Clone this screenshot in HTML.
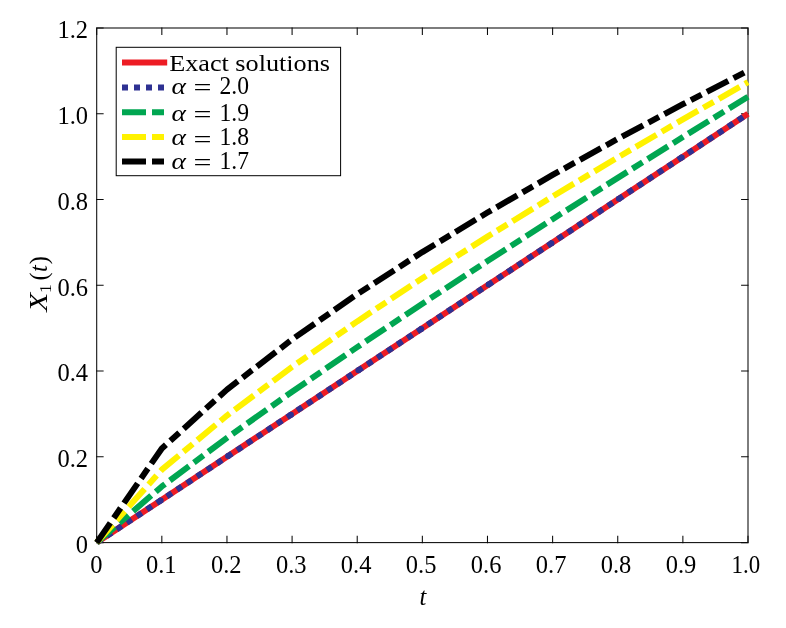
<!DOCTYPE html>
<html><head><meta charset="utf-8"><title>Plot</title>
<style>html,body{margin:0;padding:0;background:#fff}svg{display:block}text{font-family:"Liberation Serif",serif;fill:#000}</style></head><body>
<div style="will-change:transform;width:786px;height:628px">
<svg width="786" height="628" viewBox="0 0 786 628">
<rect width="786" height="628" fill="#fff"/>
<g stroke="#0a0a0a" stroke-width="1.06" fill="none" stroke-linecap="square">
<rect x="96.7" y="28.0" width="651.30" height="514.60"/>
<path d="M96.70 542.6v-6.4M96.70 28.0v6.4M161.83 542.6v-6.4M161.83 28.0v6.4M226.96 542.6v-6.4M226.96 28.0v6.4M292.09 542.6v-6.4M292.09 28.0v6.4M357.22 542.6v-6.4M357.22 28.0v6.4M422.35 542.6v-6.4M422.35 28.0v6.4M487.48 542.6v-6.4M487.48 28.0v6.4M552.61 542.6v-6.4M552.61 28.0v6.4M617.74 542.6v-6.4M617.74 28.0v6.4M682.87 542.6v-6.4M682.87 28.0v6.4M748.00 542.6v-6.4M748.00 28.0v6.4M96.7 542.60h6.4M748.0 542.60h-6.4M96.7 456.83h6.4M748.0 456.83h-6.4M96.7 371.07h6.4M748.0 371.07h-6.4M96.7 285.30h6.4M748.0 285.30h-6.4M96.7 199.53h6.4M748.0 199.53h-6.4M96.7 113.77h6.4M748.0 113.77h-6.4M96.7 28.00h6.4M748.0 28.00h-6.4"/>
</g>
<g fill="none" stroke-width="6" stroke-linejoin="round">
<polyline points="96.70,542.60 161.83,499.72 226.96,456.83 292.09,413.95 357.22,371.07 422.35,328.18 487.48,285.30 552.61,242.42 617.74,199.53 682.87,156.65 748.00,113.77" stroke="#ed1c24"/>
<polyline points="96.70,542.60 161.83,499.72 226.96,456.83 292.09,413.95 357.22,371.07 422.35,328.18 487.48,285.30 552.61,242.42 617.74,199.53 682.87,156.65 748.00,113.77" stroke="#2e3192" stroke-dasharray="6 6"/>
<g fill="#2e3192" stroke="none"><circle cx="160.66" cy="500.49" r="3"/><circle cx="228.13" cy="456.06" r="3"/><circle cx="290.92" cy="414.72" r="3"/><circle cx="358.39" cy="370.30" r="3"/><circle cx="421.18" cy="328.95" r="3"/><circle cx="488.65" cy="284.53" r="3"/><circle cx="551.44" cy="243.19" r="3"/><circle cx="618.91" cy="198.76" r="3"/><circle cx="681.70" cy="157.42" r="3"/></g>
<polyline points="96.70,542.60 161.83,486.47 226.96,437.85 292.09,391.72 357.22,347.13 422.35,303.66 487.48,261.05 552.61,219.15 617.74,177.85 682.87,137.06 748.00,96.72" stroke="#00a651" stroke-dasharray="24 6 12 6"/>
<polyline points="96.70,542.60 161.83,469.63 226.96,415.55 292.09,366.87 357.22,321.39 422.35,278.15 487.48,236.63 552.61,196.47 617.74,157.45 682.87,119.39 748.00,82.17" stroke="#fff200" stroke-dasharray="24 6 12 6"/>
<polyline points="96.70,542.60 161.83,448.43 226.96,389.63 292.09,339.42 357.22,294.09 422.35,252.08 487.48,212.53 552.61,174.92 617.74,138.90 682.87,104.20 748.00,70.65" stroke="#000" stroke-dasharray="24 6 12 6"/>
</g>
<g font-size="24.5">
<text x="96.30" y="572.8" text-anchor="middle">0</text>
<text x="161.27" y="572.8" text-anchor="middle">0.1</text>
<text x="226.24" y="572.8" text-anchor="middle">0.2</text>
<text x="291.21" y="572.8" text-anchor="middle">0.3</text>
<text x="356.18" y="572.8" text-anchor="middle">0.4</text>
<text x="421.15" y="572.8" text-anchor="middle">0.5</text>
<text x="486.12" y="572.8" text-anchor="middle">0.6</text>
<text x="551.09" y="572.8" text-anchor="middle">0.7</text>
<text x="616.06" y="572.8" text-anchor="middle">0.8</text>
<text x="681.03" y="572.8" text-anchor="middle">0.9</text>
<text x="745.80" y="572.8" text-anchor="middle" textLength="28.6" lengthAdjust="spacingAndGlyphs">1.0</text>
<text x="88" y="553.00" text-anchor="end">0</text>
<text x="88" y="467.23" text-anchor="end">0.2</text>
<text x="88" y="381.47" text-anchor="end">0.4</text>
<text x="88" y="295.70" text-anchor="end">0.6</text>
<text x="88" y="209.93" text-anchor="end">0.8</text>
<text x="88" y="124.17" text-anchor="end">1.0</text>
<text x="88" y="38.40" text-anchor="end">1.2</text>
<text x="422.8" y="604.5" text-anchor="middle" font-style="italic">t</text>
<g transform="translate(47.1 312.4) rotate(-90)">
<text x="0.6" y="0" font-style="italic" textLength="19" lengthAdjust="spacingAndGlyphs">X</text>
<text x="19.5" y="4.1" font-size="17.5">1</text>
<text x="32" y="0">(</text>
<text x="40.3" y="0" font-style="italic">t</text>
<text x="48.1" y="0">)</text>
</g>
</g>
<rect x="116.2" y="47.3" width="224.4" height="128.4" fill="#fff" stroke="#000" stroke-width="1"/>
<g fill="none" stroke-width="6">
<path d="M122 62.6H167.2" stroke="#ed1c24"/>
<path d="M122 87.4H167.2" stroke="#2e3192" stroke-dasharray="6 6"/>
<path d="M122 112.2H167.2" stroke="#00a651" stroke-dasharray="24 6 12 6"/>
<path d="M122 137.1H167.2" stroke="#fff200" stroke-dasharray="24 6 12 6"/>
<path d="M122 161.6H167.2" stroke="#000" stroke-dasharray="24 6 12 6"/>
</g>
<g font-size="24.5">
<text x="169.2" y="70.9" font-size="24" textLength="160.8" lengthAdjust="spacingAndGlyphs">Exact solutions</text>
<text y="93.6"><tspan x="171.6" font-style="italic" font-size="23" textLength="14.4" lengthAdjust="spacingAndGlyphs">α</tspan><tspan x="193.6" dy="2.7" textLength="18" lengthAdjust="spacingAndGlyphs">=</tspan><tspan x="219.5" dy="-2.7" textLength="29.5" lengthAdjust="spacingAndGlyphs">2.0</tspan></text>
<text y="120.6"><tspan x="171.6" font-style="italic" font-size="23" textLength="14.4" lengthAdjust="spacingAndGlyphs">α</tspan><tspan x="193.6" dy="2.7" textLength="18" lengthAdjust="spacingAndGlyphs">=</tspan><tspan x="219.5" dy="-2.7" textLength="29.5" lengthAdjust="spacingAndGlyphs">1.9</tspan></text>
<text y="144.8"><tspan x="171.6" font-style="italic" font-size="23" textLength="14.4" lengthAdjust="spacingAndGlyphs">α</tspan><tspan x="193.6" dy="2.7" textLength="18" lengthAdjust="spacingAndGlyphs">=</tspan><tspan x="219.5" dy="-2.7" textLength="29.5" lengthAdjust="spacingAndGlyphs">1.8</tspan></text>
<text y="168.5"><tspan x="171.6" font-style="italic" font-size="23" textLength="14.4" lengthAdjust="spacingAndGlyphs">α</tspan><tspan x="193.6" dy="2.7" textLength="18" lengthAdjust="spacingAndGlyphs">=</tspan><tspan x="219.5" dy="-2.7" textLength="29.5" lengthAdjust="spacingAndGlyphs">1.7</tspan></text>
</g>
</svg></div></body></html>
